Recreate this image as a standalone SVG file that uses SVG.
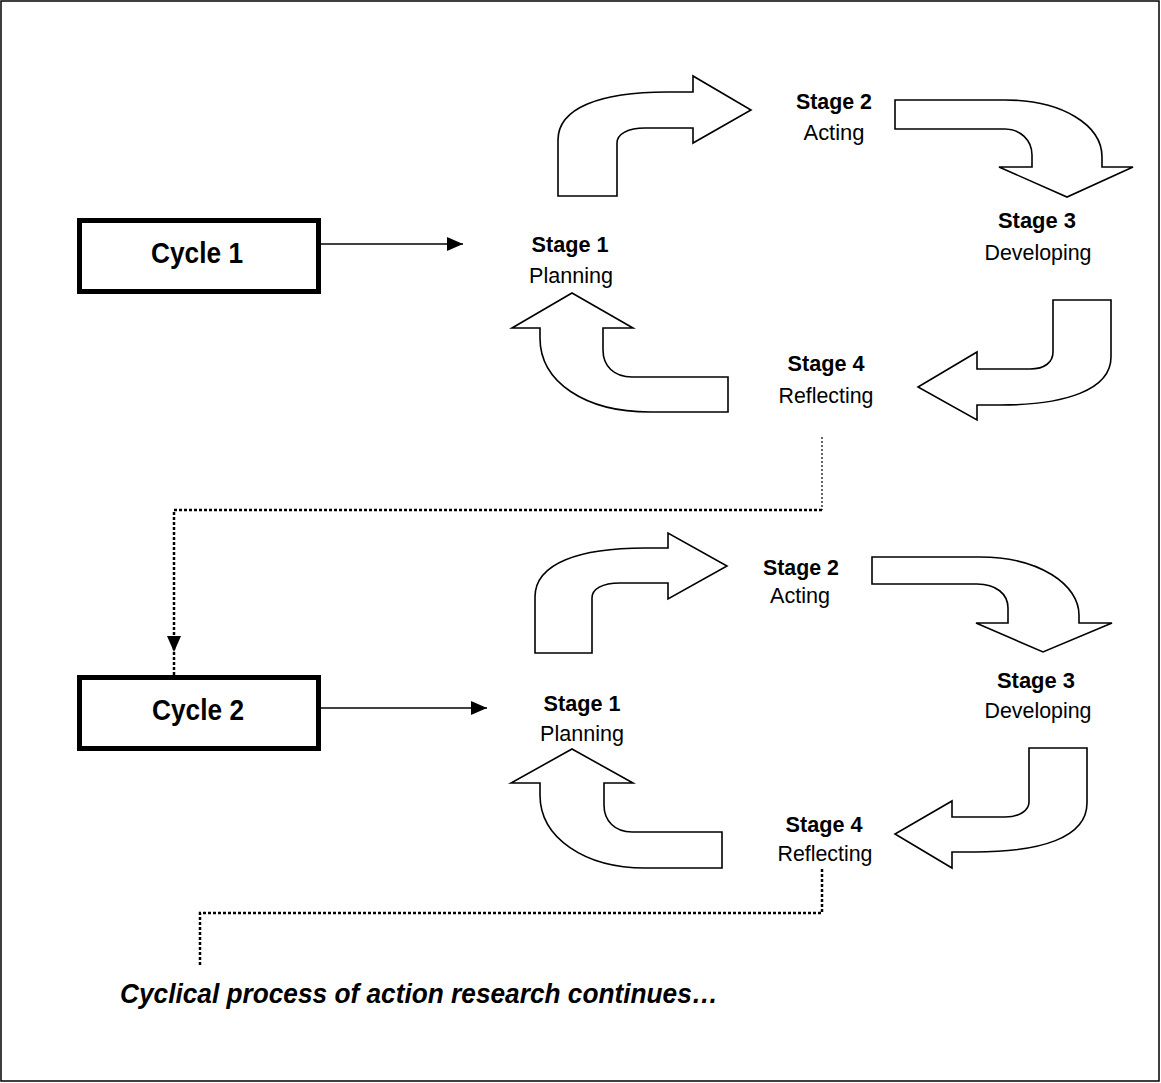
<svg xmlns="http://www.w3.org/2000/svg" width="1161" height="1083" viewBox="0 0 1161 1083">
<style>
.bg{fill:#fff}
.frame{fill:none;stroke:#000;stroke-width:1.5}
.box{fill:#fff;stroke:#000;stroke-width:5}
.cyc{font-family:"Liberation Sans",Arial,sans-serif;font-weight:bold;font-size:29px;text-anchor:middle;fill:#000}
.st{font-family:"Liberation Sans",Arial,sans-serif;font-weight:bold;font-size:22px;text-anchor:middle;fill:#000}
.lb{font-family:"Liberation Sans",Arial,sans-serif;font-size:22px;text-anchor:middle;fill:#000}
.note{font-family:"Liberation Sans",Arial,sans-serif;font-weight:bold;font-style:italic;font-size:27px;fill:#000}
.barrow{fill:#fff;stroke:#000;stroke-width:1.6;stroke-linejoin:miter}
.line{fill:none;stroke:#000;stroke-width:1.5}
.dot{fill:none;stroke:#000;stroke-width:2.5;stroke-dasharray:3,2}
.dotthin{fill:none;stroke:#000;stroke-width:1.2;stroke-dasharray:2,2}
</style>
<defs>
<marker id="ah2" viewBox="0 0 16 14" refX="16" refY="7" markerWidth="16" markerHeight="14" markerUnits="userSpaceOnUse" orient="auto">
<path d="M0,0 L16,7 L0,14 Z" fill="#000"/>
</marker>
</defs>
<rect class="bg" x="0" y="0" width="1161" height="1083"/>
<rect class="frame" x="1" y="1" width="1158" height="1080"/>

<g id="connectors">
<line class="line" x1="321" y1="244" x2="463" y2="244" marker-end="url(#ah2)"/>
<line class="line" x1="321" y1="708" x2="487" y2="708" marker-end="url(#ah2)"/>
<polyline class="dotthin" points="822,437 822,510"/>
<polyline class="dot" points="822,510 174,510 174,652" marker-end="url(#ah2)"/>
<line class="dot" x1="174" y1="652" x2="174" y2="675"/>
<polyline class="dot" points="822,869 822,913 200,913 200,966"/>
</g>

<g id="cycle1">
<rect class="box" x="79.5" y="220.5" width="239" height="71"/>
<text class="cyc" x="197" y="263" textLength="92" lengthAdjust="spacingAndGlyphs">Cycle 1</text>
</g>
<g id="cycle2">
<rect class="box" x="79.5" y="677.5" width="239" height="71"/>
<text class="cyc" x="198" y="720" textLength="92" lengthAdjust="spacingAndGlyphs">Cycle 2</text>
</g>

<g id="c1-arrow-up-right"><path class="barrow" d="M558,196 L558,140 C558,108 600,92 667,92 L693,92 L693,76 L751,110 L693,143 L693,128 L645,128 C628,128 617,134 617,143 L617,196 Z"/></g>
<g id="c1-arrow-down"><path class="barrow" d="M895,100 L1005,100 C1062,100 1102,125 1102,157 L1102,167 L1133,167 L1067,197 L999,167 L1032,167 L1032,155 C1032,140 1020,129 1005,129 L895,129 Z"/></g>
<g id="c1-arrow-left"><path class="barrow" d="M1053,300 L1111,300 L1111,357 C1111,390 1065,405 1000,405 L977,405 L977,420 L918,387 L977,352 L977,369 L1030,369 C1045,369 1053,362 1053,352 Z"/></g>
<g id="c1-arrow-up"><path class="barrow" d="M572,293 L633,328 L603,328 L603,350 C603,366 614,377 632,377 L728,377 L728,412 L650,412 C585,412 540,382 540,338 L540,328 L512,328 Z"/></g>

<g id="c1-stage1"><text class="st" x="570" y="252" textLength="77" lengthAdjust="spacingAndGlyphs">Stage 1</text><text class="lb" x="571" y="283" textLength="84" lengthAdjust="spacingAndGlyphs">Planning</text></g>
<g id="c1-stage2"><text class="st" x="834" y="109" textLength="76" lengthAdjust="spacingAndGlyphs">Stage 2</text><text class="lb" x="834" y="140" textLength="61" lengthAdjust="spacingAndGlyphs">Acting</text></g>
<g id="c1-stage3"><text class="st" x="1037" y="228" textLength="78" lengthAdjust="spacingAndGlyphs">Stage 3</text><text class="lb" x="1038" y="260" textLength="107" lengthAdjust="spacingAndGlyphs">Developing</text></g>
<g id="c1-stage4"><text class="st" x="826" y="371" textLength="77" lengthAdjust="spacingAndGlyphs">Stage 4</text><text class="lb" x="826" y="403" textLength="95" lengthAdjust="spacingAndGlyphs">Reflecting</text></g>

<g id="c2-arrow-up-right"><path class="barrow" d="M535,653 L535,597 C535,563 580,548 645,548 L668,548 L668,533 L727,566 L668,599 L668,583 L620,583 C602,583 592,589 592,598 L592,653 Z"/></g>
<g id="c2-arrow-down"><path class="barrow" d="M872,557 L980,557 C1040,557 1079,585 1079,615 L1079,623 L1112,623 L1043,652 L976,623 L1008,623 L1008,608 C1008,594 996,584 977,584 L872,584 Z"/></g>
<g id="c2-arrow-left"><path class="barrow" d="M1029,748 L1087,748 L1087,803 C1087,838 1040,852 975,852 L952,852 L952,868 L895,834 L952,801 L952,817 L1005,817 C1020,817 1029,810 1029,802 Z"/></g>
<g id="c2-arrow-up"><path class="barrow" d="M572,749 L633,783 L604,783 L604,805 C604,821 615,832 632,832 L722,832 L722,868 L645,868 C585,868 540,838 540,795 L540,783 L511,783 Z"/></g>

<g id="c2-stage1"><text class="st" x="582" y="711" textLength="77" lengthAdjust="spacingAndGlyphs">Stage 1</text><text class="lb" x="582" y="741" textLength="84" lengthAdjust="spacingAndGlyphs">Planning</text></g>
<g id="c2-stage2"><text class="st" x="801" y="575" textLength="76" lengthAdjust="spacingAndGlyphs">Stage 2</text><text class="lb" x="800" y="603" textLength="60" lengthAdjust="spacingAndGlyphs">Acting</text></g>
<g id="c2-stage3"><text class="st" x="1036" y="688" textLength="78" lengthAdjust="spacingAndGlyphs">Stage 3</text><text class="lb" x="1038" y="718" textLength="107" lengthAdjust="spacingAndGlyphs">Developing</text></g>
<g id="c2-stage4"><text class="st" x="824" y="832" textLength="77" lengthAdjust="spacingAndGlyphs">Stage 4</text><text class="lb" x="825" y="861" textLength="95" lengthAdjust="spacingAndGlyphs">Reflecting</text></g>

<g id="note"><text class="note" x="120" y="1003" textLength="598" lengthAdjust="spacingAndGlyphs">Cyclical process of action research continues…</text></g>
</svg>
